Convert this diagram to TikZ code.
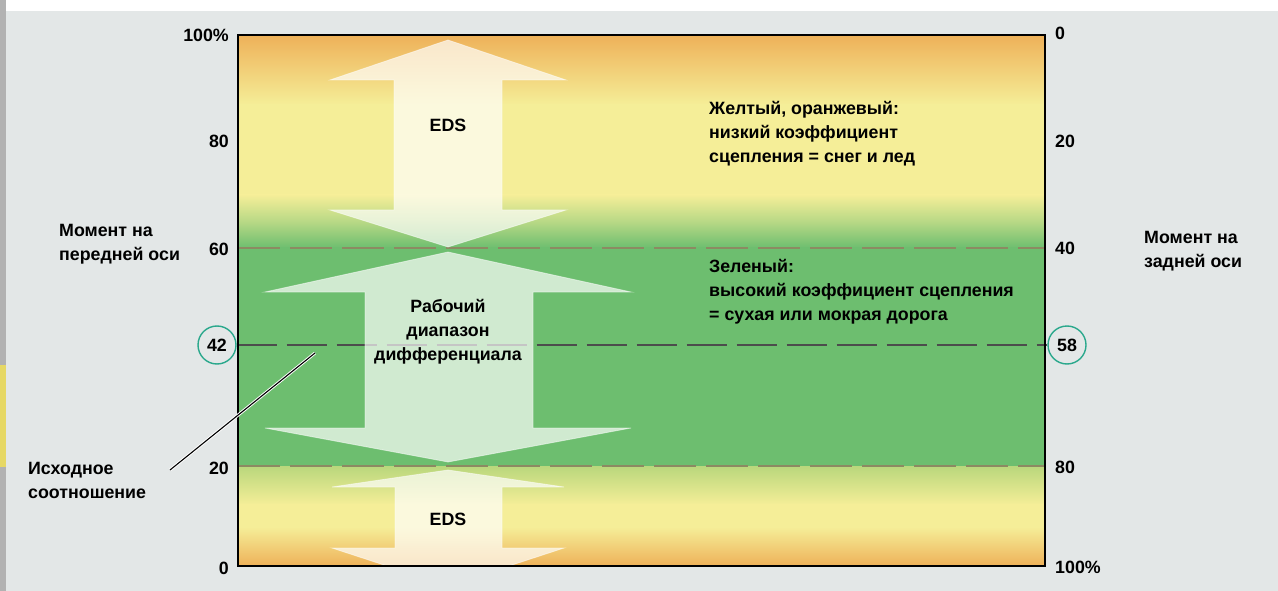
\documentclass[tikz,border=0pt]{standalone}
\usepackage{fontspec}
\setmainfont{Liberation Sans}
\usetikzlibrary{calc}
\definecolor{bg}{HTML}{E3E7E7}
\definecolor{strip}{HTML}{B2B2B2}
\definecolor{stripy}{HTML}{E6D865}
\definecolor{orng}{HTML}{EEB159}
\definecolor{yel}{HTML}{F5EE98}
\definecolor{grn}{HTML}{6DBE6F}
\definecolor{grny}{HTML}{B9D77C}
\definecolor{teal}{HTML}{2AA88C}
\definecolor{dashc}{HTML}{8C8A62}
\tikzset{
  lbl/.style={font=\bfseries\fontsize{17.8}{24}\selectfont, inner sep=0pt},
  arrowshape/.style={fill=white, fill opacity=0.68, draw=white, draw opacity=0.5, line width=0.8pt},
  ring/.style={circle, draw=teal, line width=1.4pt, fill=bg, minimum size=38pt, inner sep=0pt, font=\bfseries\fontsize{17.8}{24}\selectfont},
  zone/.style={dash pattern=on 42pt off 10pt, draw=dashc, line width=1.6pt},
}
\begin{document}
\begin{tikzpicture}[x=1pt,y=-1pt]
\useasboundingbox (0,0) rectangle (1278,591);
% background
\fill[white] (0,0) rectangle (1278,591);
\fill[bg] (6,11) rectangle (1278,591);
\fill[strip] (0,0) rectangle (6,591);
\fill[stripy] (0,365) rectangle (6,467);
% circles (outside the chart)
\node[ring] (c42) at (217,345) {42};
\node[ring] (c58) at (1067,345) {58};
% chart gradient
\begin{scope}
\clip (238,35) rectangle (1045,566);
\shade[top color=orng, bottom color=yel] (238,35) rectangle (1045,105);
\fill[yel] (238,104) rectangle (1045,196);
\shade[top color=yel, bottom color=grn, middle color=yel!55!grn] (238,195) rectangle (1045,248);
\fill[grn] (238,247) rectangle (1045,466);
\shade[top color=grny, bottom color=yel] (238,466) rectangle (1045,505);
\fill[yel] (238,504) rectangle (1045,528);
\shade[top color=yel, bottom color=orng] (238,527) rectangle (1045,566);
% zone lines
\draw[zone] (238,248) -- (1045,248);
\draw[zone] (238,466) -- (1045,466);
\end{scope}
% initial ratio line
\draw[dash pattern=on 40pt off 10pt, draw=black!70, line width=1.3pt] (c42.east) -- (c58.west);
\begin{scope}
\clip (238,35) rectangle (1045,566);
% arrows
\path[arrowshape] (448,40) -- (566,80) -- (502,80) -- (502,210) -- (566,210) -- (448,247) -- (330,210) -- (394,210) -- (394,80) -- (330,80) -- cycle;
\path[arrowshape] (448,252) -- (631,292) -- (533,292) -- (533,428) -- (631,428) -- (448,462) -- (265,428) -- (365,428) -- (365,292) -- (265,292) -- cycle;
\path[arrowshape] (448,470) -- (564,487) -- (502,487) -- (502,548) -- (564,548) -- (448,586) -- (332,548) -- (395,548) -- (395,487) -- (332,487) -- cycle;
\end{scope}
% frame
\draw[line width=2.4pt] (238,35) rectangle (1045,566);
% axis labels left
\node[lbl, anchor=east] (l100) at (229,35) {100\%};
\node[lbl, anchor=east] (l80) at (229,141) {80};
\node[lbl, anchor=east] (l60) at (229,249) {60};
\node[lbl, anchor=east] (l20) at (229,468) {20};
\node[lbl, anchor=east] (l0) at (229,568) {0};
% axis labels right
\node[lbl, anchor=west] (r0) at (1055,33) {0};
\node[lbl, anchor=west] (r20) at (1055,141) {20};
\node[lbl, anchor=west] (r40) at (1055,248) {40};
\node[lbl, anchor=west] (r80) at (1055,467) {80};
\node[lbl, anchor=west] (r100) at (1055,567) {100\%};
% texts
\node[lbl, anchor=west, align=left] (front) at (59,244) {Момент на\\передней оси};
\node[lbl, anchor=west, align=left] (rear) at (1144,251) {Момент на\\задней оси};
\node[lbl, anchor=west, align=left] (init) at (28,480) {Исходное\\соотношение};
\node[lbl] (eds1) at (448,125) {EDS};
\node[lbl] (eds2) at (448,519) {EDS};
\node[lbl, align=center] (work) at (448,332) {Рабочий\\диапазон\\дифференциала};
\node[lbl, anchor=west, align=left] (low) at (709,134) {Желтый, оранжевый:\\низкий коэффициент\\сцепления = снег и лед};
\node[lbl, anchor=west, align=left] (high) at (709,292) {Зеленый:\\высокий коэффициент сцепления\\= сухая или мокрая дорога};
% leader
\coordinate (ratio) at (315,353);
\coordinate (leadend) at (170,470);
\draw[white, line width=3pt] (ratio) -- (leadend);
\draw[black, line width=1.1pt] (ratio) -- (leadend);
\end{tikzpicture}
\end{document}
